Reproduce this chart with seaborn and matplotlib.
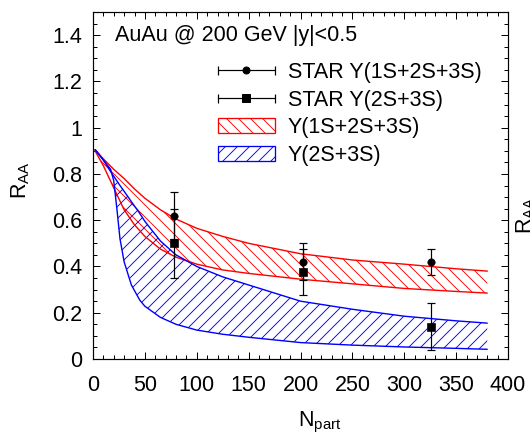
import matplotlib
matplotlib.use("Agg")
import matplotlib.pyplot as plt
import seaborn as sns
import numpy as np
from matplotlib.lines import Line2D
from matplotlib.patches import Patch
from matplotlib.legend_handler import HandlerLine2D
from matplotlib.ticker import MultipleLocator, FuncFormatter

# ---------------- data ----------------
npart = [78, 202, 326]
star_all_y = [0.62, 0.42, 0.42]
star_all_err = [0.10, 0.08, 0.055]
star_exc_y = [0.50, 0.375, 0.14]
star_exc_err = [0.15, 0.10, 0.10]

red_x = [2, 10, 20, 30, 40, 50, 65, 80, 100, 125, 150, 200, 250, 300, 350, 380]
red_hi = [0.905, 0.865, 0.82, 0.78, 0.735, 0.695, 0.645, 0.605, 0.565, 0.53, 0.50,
          0.455, 0.428, 0.41, 0.39, 0.38]
red_lo = [0.90, 0.835, 0.74, 0.645, 0.58, 0.53, 0.475, 0.44, 0.41, 0.385, 0.37,
          0.345, 0.325, 0.305, 0.292, 0.285]

blue_x = [2, 10, 17, 20, 23, 26, 30, 37, 45, 50, 65, 80, 100, 125, 150, 200, 250,
          300, 350, 380]
blue_hi = [0.905, 0.86, 0.81, 0.79, 0.77, 0.75, 0.725, 0.68, 0.63, 0.595, 0.51, 0.45,
           0.40, 0.355, 0.32, 0.25, 0.215, 0.185, 0.165, 0.155]
blue_lo = [0.905, 0.86, 0.82, 0.77, 0.65, 0.52, 0.42, 0.32, 0.255, 0.228, 0.18, 0.15,
           0.125, 0.107, 0.094, 0.071, 0.06, 0.052, 0.046, 0.042]

title_text = "AuAu @ 200 GeV |y|<0.5"
labels = ["STAR \u03a5(1S+2S+3S)", "STAR \u03a5(2S+3S)", "\u03a5(1S+2S+3S)", "\u03a5(2S+3S)"]

# ---------------- style ----------------
sns.set_style("ticks")
plt.rcParams["font.family"] = ["Liberation Sans", "DejaVu Sans"]
plt.rcParams["mathtext.fontset"] = "custom"
plt.rcParams["mathtext.rm"] = "Liberation Sans"
plt.rcParams["mathtext.it"] = "Liberation Sans:italic"
plt.rcParams["hatch.linewidth"] = 0.9
plt.rcParams["text.color"] = "black"
plt.rcParams["axes.labelcolor"] = "black"
plt.rcParams["xtick.color"] = "black"
plt.rcParams["ytick.color"] = "black"

FS = 21.5
DPI = 72
W, H = 530, 442
fig = plt.figure(figsize=(W / DPI, H / DPI), dpi=DPI, facecolor="white")
L, R, T, B = 93, 508, 12, 359
ax = fig.add_axes([L / W, (H - B) / H, (R - L) / W, (B - T) / H])
ax.set_facecolor("white")

# theory bands
ax.fill_between(red_x, red_lo, red_hi, facecolor="none", edgecolor="red",
                hatch="\\\\", linewidth=0, zorder=2)
ax.fill_between(blue_x, blue_lo, blue_hi, facecolor="none", edgecolor="blue",
                hatch="//", linewidth=0, zorder=2)
for xs, ys, c in [(red_x, red_hi, "red"), (red_x, red_lo, "red"),
                  (blue_x, blue_hi, "blue"), (blue_x, blue_lo, "blue")]:
    sns.lineplot(x=xs, y=ys, color=c, linewidth=1.4, ax=ax, legend=False, zorder=3)

# STAR data
ax.errorbar(npart, star_all_y, yerr=star_all_err, fmt="none", ecolor="black",
            elinewidth=1.2, capsize=4, capthick=1.2, zorder=4)
ax.errorbar(npart, star_exc_y, yerr=star_exc_err, fmt="none", ecolor="black",
            elinewidth=1.2, capsize=4, capthick=1.2, zorder=4)
sns.scatterplot(x=npart, y=star_all_y, marker="o", s=55, color="black",
                edgecolor="black", ax=ax, zorder=5, legend=False)
sns.scatterplot(x=npart, y=star_exc_y, marker="s", s=65, color="black",
                edgecolor="black", ax=ax, zorder=5, legend=False)

# axes
ax.set_xlim(0, 400)
ax.set_ylim(0, 1.5)
ax.xaxis.set_major_locator(MultipleLocator(50))
ax.xaxis.set_minor_locator(MultipleLocator(10))
ax.yaxis.set_major_locator(MultipleLocator(0.2))
ax.yaxis.set_minor_locator(MultipleLocator(0.05))
ax.yaxis.set_major_formatter(FuncFormatter(lambda v, p: "%g" % round(v, 2)))
ax.tick_params(which="both", direction="in", top=True, right=True, colors="black",
               labelsize=FS, width=1.0)
ax.tick_params(which="major", length=7)
ax.tick_params(axis="y", which="major", pad=11)
ax.tick_params(axis="x", which="major", pad=16)
ax.tick_params(which="minor", length=4)
for s in ax.spines.values():
    s.set_linewidth(1.2)
    s.set_color("black")

ax.set_xlabel("N$_\\mathregular{part}$", fontsize=FS)
ax.xaxis.set_label_coords((320 - L) / (R - L), (B - 410) / (B - T))
ax.set_ylabel("R$_\\mathregular{AA}$", fontsize=FS)
ax.yaxis.set_label_coords((32 - L) / (R - L), (B - 180) / (B - T))

ax.text((115 - L) / (R - L), (B - 36) / (B - T), title_text, transform=ax.transAxes,
        fontsize=FS, ha="left", va="center")

# legend
cap1 = Line2D([], [], color="black", marker="|", markersize=9, lw=1.2, markeredgewidth=1.2)
mk1 = Line2D([], [], color="black", marker="o", markersize=7, lw=0)
cap2 = Line2D([], [], color="black", marker="|", markersize=9, lw=1.2, markeredgewidth=1.2)
mk2 = Line2D([], [], color="black", marker="s", markersize=8, lw=0)
p_red = Patch(facecolor="white", edgecolor="red", hatch="\\\\", lw=1.3)
p_blue = Patch(facecolor="white", edgecolor="blue", hatch="//", lw=1.3)
hmap = {cap1: HandlerLine2D(numpoints=2, marker_pad=0),
        cap2: HandlerLine2D(numpoints=2, marker_pad=0),
        mk1: HandlerLine2D(numpoints=1), mk2: HandlerLine2D(numpoints=1)}
ax.legend([(cap1, mk1), (cap2, mk2), p_red, p_blue], labels, handler_map=hmap,
          loc="upper left", bbox_to_anchor=((218 - L) / (R - L), (B - 62) / (B - T)),
          frameon=False, fontsize=FS, borderpad=0, borderaxespad=0,
          handlelength=2.65, handleheight=0.7, handletextpad=0.6, labelspacing=0.31)

# partially visible label of the neighbouring panel (cut by the image edge, as in the reference)
fig.text(514 / W, 1 - 215 / H, "R$_\\mathregular{AA}$", fontsize=FS, rotation=90,
         ha="left", va="center")

fig.savefig("out.png", dpi=DPI, facecolor="white")
